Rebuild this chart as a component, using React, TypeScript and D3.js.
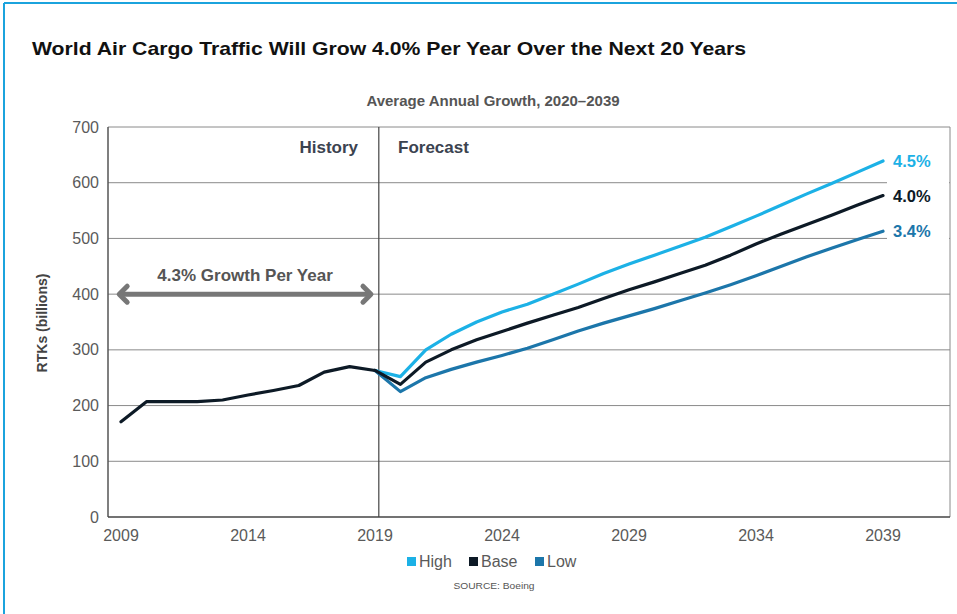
import React from 'react';
import * as d3 from 'd3';

const historyYears = [2009, 2010, 2011, 2012, 2013, 2014, 2015, 2016, 2017, 2018, 2019];
const historyValues = [171, 207, 207, 207, 210, 219, 227, 236, 260, 270, 263];
const forecastYears = [2019, 2020, 2021, 2022, 2023, 2024, 2025, 2026, 2027, 2028, 2029, 2030, 2031, 2032, 2033, 2034, 2035, 2036, 2037, 2038, 2039];
const highValues = [263, 252, 300, 328, 350, 368, 382, 400, 418, 437, 454, 470, 486, 502, 521, 540, 560, 580, 599, 619, 639];
const baseValues = [263, 238, 278, 300, 318, 333, 348, 362, 376, 392, 408, 422, 437, 452, 470, 490, 508, 525, 542, 560, 577];
const lowValues = [263, 225, 250, 265, 278, 290, 303, 318, 334, 348, 361, 374, 388, 402, 417, 433, 450, 467, 483, 498, 513];
const yTicks = [0, 100, 200, 300, 400, 500, 600, 700];
const xTicks = [2009, 2014, 2019, 2024, 2029, 2034, 2039];
const seriesNames = ['High', 'Base', 'Low'];
const seriesRates = ['4.5%', '4.0%', '3.4%'];
const seriesColors = ['#1cb1e6', '#0d1a26', '#1c76aa'];

const width = 957;
const height = 614;
const font = '"Liberation Sans", Arial, Helvetica, sans-serif';
const plot = { left: 108, right: 950, top: 127, bottom: 517 };

const x = d3.scaleLinear().domain([2009, 2039]).range([121, 883]);
const y = d3.scaleLinear().domain([0, 700]).range([plot.bottom, plot.top]);

const line = d3.line<[number, number]>()
  .curve(d3.curveLinear)
  .x(d => x(d[0]))
  .y(d => y(d[1]));

const history = historyYears.map((yr, i) => [yr, historyValues[i]] as [number, number]);
const seriesValues = [highValues, baseValues, lowValues];
const forecasts = seriesValues.map(vals =>
  forecastYears.map((yr, i) => [yr, vals[i]] as [number, number]));

const dividerYear = 2019.15;
const arrowFrom = 2008.85;
const arrowTo = 2018.92;
const arrowValue = 400;

export default function App() {
  const ax1 = x(arrowFrom), ax2 = x(arrowTo), ay = y(arrowValue);
  return (
    <svg width={width} height={height} viewBox={`0 0 ${width} ${height}`}
      style={{ position: 'absolute', left: 0, top: 0, background: '#fff' }}
      fontFamily={font}>
      <rect x={0} y={0} width={width} height={height} fill="#fff" />
      {/* frame */}
      <line x1={4} x2={width} y1={3} y2={3} stroke="#1ba3dd" strokeWidth={2} />
      <line x1={4} x2={4} y1={3} y2={height} stroke="#1ba3dd" strokeWidth={2} />

      <text x={32} y={55} fontSize={19} fontWeight="bold" fill="#111"
        textLength={714} lengthAdjust="spacingAndGlyphs">
        World Air Cargo Traffic Will Grow 4.0% Per Year Over the Next 20 Years
      </text>
      <text x={493} y={106} fontSize={15} fontWeight="bold" fill="#555" textAnchor="middle">
        Average Annual Growth, 2020–2039
      </text>

      {/* grid */}
      {yTicks.filter(t => t > 0).map(t => (
        <line key={t} x1={plot.left} x2={plot.right} y1={y(t)} y2={y(t)} stroke="#8a8a8a" strokeWidth={1} />
      ))}
      <line x1={plot.right} x2={plot.right} y1={plot.top} y2={plot.bottom} stroke="#8a8a8a" strokeWidth={1} />
      <line x1={x(dividerYear)} x2={x(dividerYear)} y1={plot.top} y2={plot.bottom} stroke="#444" strokeWidth={1.2} />
      <line x1={plot.left} x2={plot.left} y1={plot.top} y2={plot.bottom} stroke="#555" strokeWidth={1.5} />
      <line x1={plot.left} x2={plot.right} y1={plot.bottom} y2={plot.bottom} stroke="#444" strokeWidth={1.5} />

      {/* ticks */}
      {yTicks.map(t => (
        <text key={t} x={99} y={y(t) + 5.5} fontSize={16} fill="#5a5a5a" textAnchor="end">{t}</text>
      ))}
      {xTicks.map(t => (
        <text key={t} x={x(t)} y={541} fontSize={16} fill="#5a5a5a" textAnchor="middle">{t}</text>
      ))}
      <text transform={`translate(47,323) rotate(-90)`} fontSize={14} fontWeight="bold" fill="#444" textAnchor="middle">
        RTKs (billions)
      </text>

      {/* history / forecast */}
      <text x={358} y={153} fontSize={17} fontWeight="bold" fill="#3b4350" textAnchor="end">History</text>
      <text x={398} y={153} fontSize={17} fontWeight="bold" fill="#3b4350">Forecast</text>

      {/* growth arrow */}
      <text x={(ax1 + ax2) / 2} y={281} fontSize={17} fontWeight="bold" fill="#555" textAnchor="middle">
        4.3% Growth Per Year
      </text>
      <line x1={ax1 + 3} x2={ax2 - 3} y1={ay} y2={ay} stroke="#777" strokeWidth={5} />
      <path d={`M${ax1 + 10},${ay - 8} L${ax1 + 2},${ay} L${ax1 + 10},${ay + 8}`} fill="none" stroke="#777" strokeWidth={5} strokeLinecap="round" strokeLinejoin="round" />
      <path d={`M${ax2 - 10},${ay - 8} L${ax2 - 2},${ay} L${ax2 - 10},${ay + 8}`} fill="none" stroke="#777" strokeWidth={5} strokeLinecap="round" strokeLinejoin="round" />

      {/* white patch behind end labels */}
      <rect x={x(2039) + 4} y={y(660)} width={plot.right - x(2039) - 5} height={y(495) - y(660)} fill="#fff" />

      {/* series */}
      {[2, 0, 1].map(i => (
        <path key={i} d={line(forecasts[i]) || ''} fill="none" stroke={seriesColors[i]} strokeWidth={3.2}
          strokeLinecap="round" strokeLinejoin="round" />
      ))}
      <path d={line(history) || ''} fill="none" stroke={seriesColors[1]} strokeWidth={3.2}
        strokeLinecap="round" strokeLinejoin="round" />

      {seriesRates.map((r, i) => {
        const vals = seriesValues[i];
        return (
          <text key={r} x={x(2039) + 10} y={y(vals[vals.length - 1]) + 6} fontSize={16.5} fontWeight="bold" fill={seriesColors[i]}>{r}</text>
        );
      })}

      {/* legend */}
      {seriesNames.map((n, i) => {
        const lx = [407, 469, 535][i];
        return (
          <g key={n}>
            <rect x={lx} y={557} width={9} height={9} fill={seriesColors[i]} />
            <text x={lx + 12} y={567} fontSize={16} fill="#5a5a5a">{n}</text>
          </g>
        );
      })}
      <text x={494} y={589} fontSize={9} fill="#555" textAnchor="middle" textLength={81} lengthAdjust="spacingAndGlyphs">SOURCE: Boeing</text>
    </svg>
  );
}
